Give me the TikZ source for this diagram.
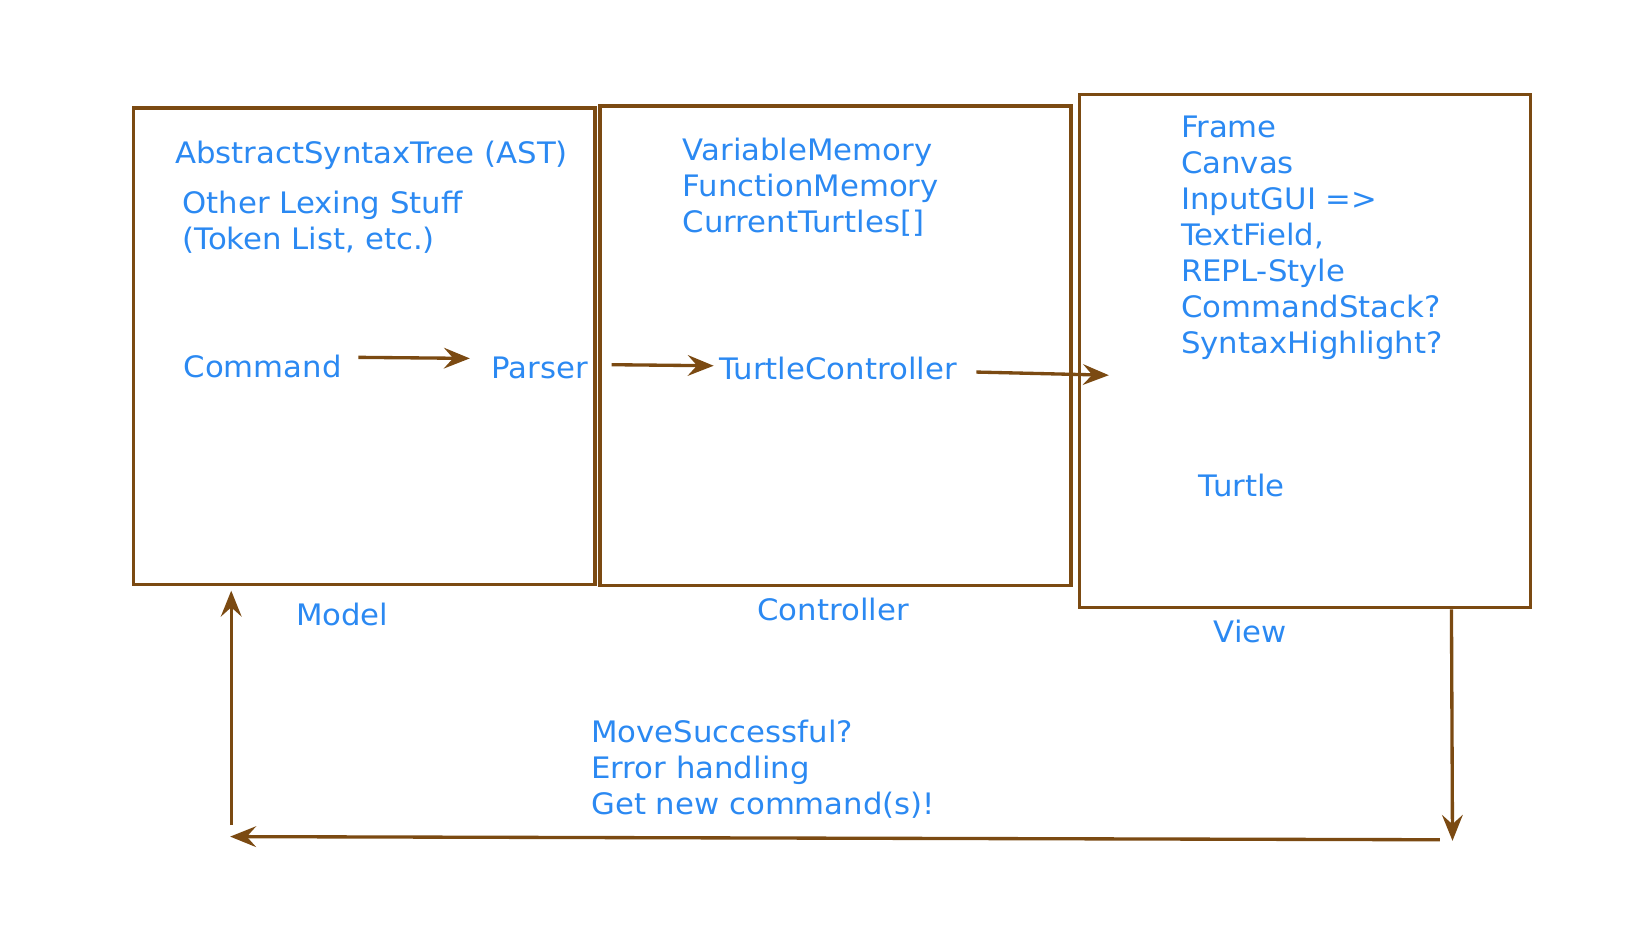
\documentclass[tikz,border=0pt]{standalone}
\usepackage{fontspec}
\setmainfont[FakeStretch=1.04]{DejaVu Sans}
\usetikzlibrary{arrows.meta}
\definecolor{brn}{HTML}{7B4A12}
\definecolor{txtblue}{HTML}{2B89F2}
\begin{document}
\begin{tikzpicture}[x=0.01cm,y=-0.01cm,
  box/.style={draw=brn,line width=0.9pt,inner sep=0pt},
  lbl/.style={text=txtblue,anchor=west,inner sep=0pt,align=left,font=\fontsize{8}{9.73}\selectfont},
  conn/.style={draw=brn,line width=0.9pt,-{Stealth[length=7pt,width=5.6pt,inset=2.5pt]}},
  plain/.style={draw=brn,line width=0.9pt}]
\useasboundingbox (0,0) rectangle (1568,882);
% boxes
\node[box,minimum width=4.39cm,minimum height=4.53cm] (model) at (346.5,329.5) {};
\node[box,minimum width=4.48cm,minimum height=4.56cm] (ctrl) at (795,329) {};
\node[box,minimum width=4.29cm,minimum height=4.88cm] (view) at (1241.5,334) {};
% texts
\node[lbl] (ast) at (166,147.5) {AbstractSyntaxTree (AST)};
\node[lbl] (lex) at (173,211) {Other Lexing Stuff\\(Token List, etc.)};
\node[lbl] (cmd) at (174,349) {Command};
\node[lbl] (parser) at (467,350) {Parser};
\node[lbl] (mem) at (649,178.5) {VariableMemory\\FunctionMemory\\CurrentTurtles[]};
\node[lbl] (tc) at (684,351) {TurtleController};
\node[lbl] (vlist) at (1123,226.5) {Frame\\Canvas\\InputGUI =>\\TextField,\\REPL-Style\\CommandStack?\\SyntaxHighlight?};
\node[lbl] (turtle) at (1140,462) {Turtle};
\node[lbl] (modellbl) at (281,585) {Model};
\node[lbl] (ctrllbl) at (720,580) {Controller};
\node[lbl] (viewlbl) at (1154,601) {View};
\node[lbl] (msg) at (562,732) {MoveSuccessful?\\Error handling\\Get new command(s)!};
% connector end points
\coordinate (c1s) at (341,340);
\coordinate (c1e) at (447,341);
\coordinate (c2s) at (582,347);
\coordinate (c2e) at (679,348);
\coordinate (c3s) at (929,354);
\coordinate (c3e) at (1055,357);
\coordinate (vd) at (1382,800);
\coordinate (bs) at (1370,799);
\coordinate (be) at (219,796);
\coordinate (us) at (220,785);
\coordinate (ue) at (220,562);
% connectors
\draw[conn] (c1s) -- (c1e);
\draw[conn] (c2s) -- (c2e);
\draw[conn] (c3s) -- (c3e);
\draw[conn] (view.south -| 1381,0) -- (vd);
\draw[conn] (bs) -- (be);
\draw[conn] (us) -- (ue);
\end{tikzpicture}
\end{document}
